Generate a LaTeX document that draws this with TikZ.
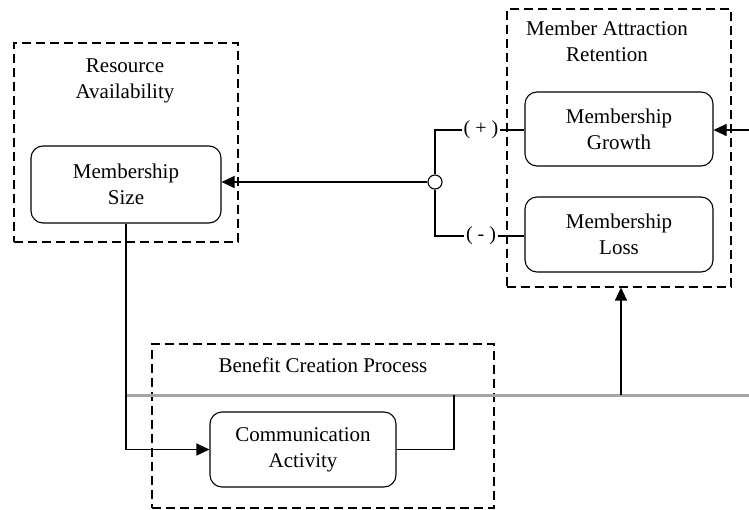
\documentclass[tikz,border=0pt]{standalone}
\usepackage{fontspec}
\setmainfont{Liberation Serif}
\usetikzlibrary{arrows.meta}
\begin{document}
\begin{tikzpicture}[x=1pt,y=-1pt,
  every node/.style={font=\fontsize{21}{26}\selectfont, align=center},
  proc/.style={draw, rounded corners=12pt, line width=1.1pt, inner sep=0pt},
  group/.style={draw, dash pattern=on 9pt off 5pt, line width=1.1pt, inner sep=0pt},
  conn/.style={line width=1.1pt},
  arr/.style={line width=1.1pt, -{Triangle[length=13pt,width=12pt]}},
  bus/.style={line width=3pt, draw=black!35},
  sign/.style={font=\fontsize{20}{22}\selectfont, inner sep=1.5pt}]
\useasboundingbox (0,0) rectangle (749,510);
% group boxes
\node[group, minimum width=224pt, minimum height=199pt] (resbox) at (126,142.5) {};
\node[group, minimum width=224pt, minimum height=278pt] (attbox) at (619,148) {};
\node[group, minimum width=342pt, minimum height=164pt] (benbox) at (323,426) {};
% titles
\node (restitle) at (125,81) {Resource\\Availability};
\node (atttitle) at (607,41) {Member Attraction\\Retention};
\node (bentitle) at (323,365) {Benefit Creation Process};
% process nodes
\node[proc, minimum width=190pt, minimum height=77pt] (size) at (126,184.5) {Membership\\Size};
\node[proc, minimum width=188pt, minimum height=74pt] (growth) at (619,129) {Membership\\Growth};
\node[proc, minimum width=188pt, minimum height=75pt] (loss) at (619,234.5) {Membership\\Loss};
\node[proc, minimum width=186pt, minimum height=75pt] (comm) at (303,449.5) {Communication\\Activity};
% junction
\node[draw, circle, line width=1.1pt, minimum size=14pt, inner sep=0pt] (circ) at (435,182) {};
\node[sign] (plus) at (481,130) {( + )};
\node[sign] (minus) at (481,236) {( - )};
% coordinates
\coordinate (rin) at (749,130);
\coordinate (busL) at (127,395);
\coordinate (busR) at (749,395);
\coordinate (bj) at (454,395);
\coordinate (ub) at (621,395);
% bus
\draw[bus] (busL) -- (busR);
% connectors
\draw[arr] (circ.west) -- (circ -| size.east);
\draw[conn] (circ.north) |- (plus.west);
\draw[conn] (plus.east) -- (plus -| growth.west);
\draw[conn] (circ.south) |- (minus.west);
\draw[conn] (minus.east) -- (minus -| loss.west);
\draw[arr] (rin) -- (rin -| growth.east);
\draw[arr] (size.south) |- (comm.west);
\draw[conn] (comm.east) -| (bj);
\draw[arr] (ub) -- (ub |- attbox.south);
\end{tikzpicture}
\end{document}
